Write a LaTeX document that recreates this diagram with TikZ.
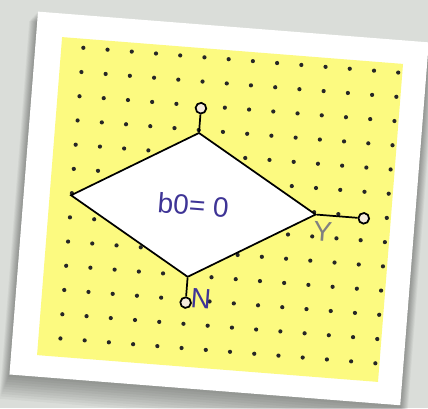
\documentclass[tikz,border=0pt]{standalone}
\usepackage{fontspec}
\setmainfont{Liberation Sans}
\usetikzlibrary{shapes.geometric, positioning}
\definecolor{fond}{RGB}{218,221,217}
\definecolor{jaune}{RGB}{252,250,128}
\definecolor{bleutexte}{RGB}{62,52,150}
\definecolor{grisY}{RGB}{128,128,128}
\definecolor{creme}{RGB}{245,235,220}
\tikzset{
  losange/.style={diamond, draw=black, line width=1.3pt, fill=white,
    minimum width=184.5pt, minimum height=108.75pt, inner sep=0pt,
    font=\fontsize{21}{21}\selectfont, text=bleutexte},
  borne/.style={circle, draw=black, line width=1.3pt, fill=creme,
    minimum size=8pt, inner sep=0pt},
  etiquette/.style={font=\fontsize{21}{21}\selectfont, inner sep=0pt}
}

\begin{document}
\begin{tikzpicture}[x=0.75pt, y=-0.75pt]
  \useasboundingbox (0,0) rectangle (428,408);
  % Le fond
  \fill[fond] (0,0) rectangle (428,408);
  \begin{scope}[rotate around={-4.5:(220,210)}, transform shape]
    % L'ombre de la carte
    \foreach \i in {1,...,10}
      \fill[black, opacity=0.035] (23-0.8*\i,26.5+\i) rectangle (415+0.8*\i,390.5+2.5*\i);
    % La carte
    \fill[white] (23,26.5) rectangle (415,390.5);
    % La zone jaune
    \fill[jaune] (49,50) rectangle (391,369);
    % Les points de la grille
    \foreach \col in {0,...,13}
      \foreach \lig in {0,...,12}
        \fill[black!85] ({71+24.3*\col}, {59+24.3*\lig}) circle (2.1);
    % Le losange
    \node[losange] (test) at (193,207) {b0= 0};
    % Les bornes
    \node[borne] (entree) at (193,110) {};
    \node[borne] (sortieY) at (364,207) {};
    \node[borne] (sortieN) at (193,305) {};
    \draw[line width=1.3pt] (test.north) -- (entree);
    \draw[line width=1.3pt] (test.east) -- (sortieY);
    \draw[line width=1.3pt] (test.south) -- (sortieN);
    % Les etiquettes
    \node[etiquette, text=grisY] (labelY) at (324,224) {Y};
    \node[etiquette, text=bleutexte] (labelN) at (208,300) {N};
  \end{scope}
\end{tikzpicture}
\end{document}
